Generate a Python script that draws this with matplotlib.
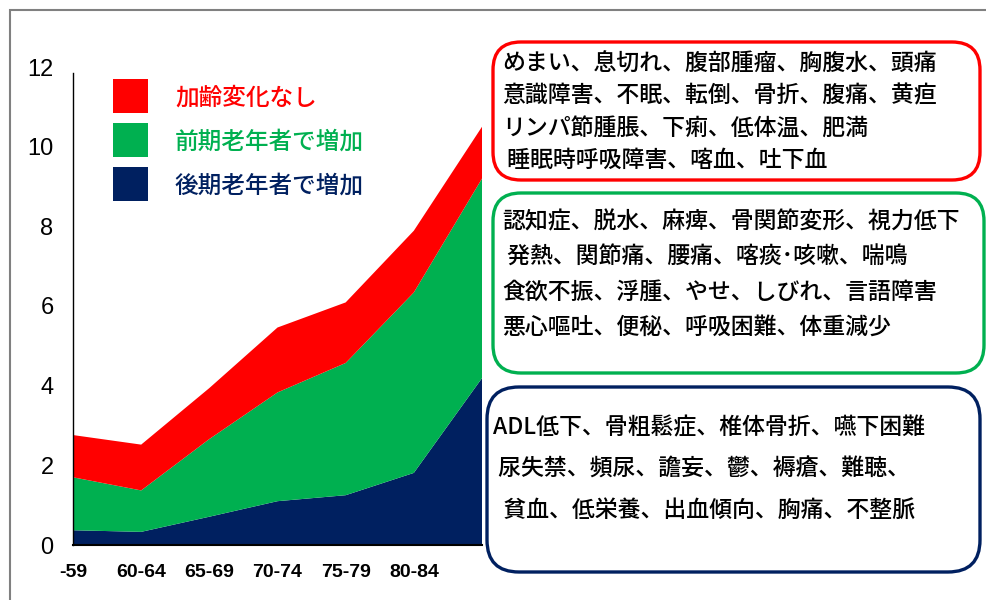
import matplotlib
matplotlib.use("Agg")
import matplotlib.pyplot as plt
from matplotlib.patches import FancyBboxPatch, Rectangle
import numpy as np

# ---- data ----
categories = ["-59", "60-64", "65-69", "70-74", "75-79", "80-84", "85-"]
shown_labels = ["-59", "60-64", "65-69", "70-74", "75-79", "80-84", ""]
late_elderly = [0.37, 0.33, 0.71, 1.10, 1.25, 1.81, 4.19]      # navy (bottom)
early_elderly = [1.33, 1.04, 1.95, 2.73, 3.32, 4.53, 5.01]     # green (middle)
no_change = [1.06, 1.15, 1.28, 1.63, 1.52, 1.55, 1.30]         # red (top)
series_names = ["加齢変化なし", "前期老年者で増加", "後期老年者で増加"]
colors = ["#FF0000", "#00B050", "#002060"]
yticks = [0, 2, 4, 6, 8, 10, 12]

box_red_lines = ["めまい、息切れ、腹部腫瘤、胸腹水、頭痛",
                 "意識障害、不眠、転倒、骨折、腹痛、黄疸",
                 "リンパ節腫脹、下痢、低体温、肥満",
                 " 睡眠時呼吸障害、喀血、吐下血"]
box_green_lines = ["認知症、脱水、麻痺、骨関節変形、視力低下",
                   " 発熱、関節痛、腰痛、喀痰･咳嗽、喘鳴",
                   "食欲不振、浮腫、やせ、しびれ、言語障害",
                   "悪心嘔吐、便秘、呼吸困難、体重減少"]
box_navy_lines = ["ADL低下、骨粗鬆症、椎体骨折、嚥下困難",
                  " 尿失禁、頻尿、譫妄、鬱、褥瘡、難聴、",
                  "  貧血、低栄養、出血傾向、胸痛、不整脈"]

plt.rcParams['font.family'] = ['Liberation Sans', 'DejaVu Sans']
JP = ['Noto Sans CJK JP', 'DejaVu Sans']

W, H = 986, 600
fig = plt.figure(figsize=(W / 100, H / 100), dpi=100)
fig.patch.set_facecolor("white")

# axes in pixel geometry
ax_left, ax_right, ax_bottom, ax_top = 73, 482, 545, 67
ax = fig.add_axes([ax_left / W, 1 - ax_bottom / H,
                   (ax_right - ax_left) / W, (ax_bottom - ax_top) / H])
x = np.arange(len(categories))
ax.stackplot(x, late_elderly, early_elderly, no_change,
             colors=[colors[2], colors[1], colors[0]], linewidth=0)
ax.set_xlim(0, len(categories) - 1)
ax.set_ylim(0, 12)
ax.set_yticks(yticks)
ax.set_yticklabels([str(v) for v in yticks], fontsize=17)
ax.set_xticks(x)
ax.set_xticklabels(shown_labels, fontsize=14, fontweight="bold")
ax.tick_params(axis="y", length=0, pad=14)
ax.tick_params(axis="x", length=0, pad=14)
for s in ["top", "right"]:
    ax.spines[s].set_visible(False)
ax.spines["left"].set_linewidth(1.0)
ax.spines["left"].set_bounds(0, 11.85)
ax.spines["bottom"].set_linewidth(1.5)
ax.set_facecolor("none")

tr = fig.dpi_scale_trans

# outer grey frame
fig.patches.append(Rectangle((0.10, -0.5), 12, 5.90 + 0.5, transform=tr,
                             fill=False, edgecolor="#808080", linewidth=1.5))

# legend
leg_top = 79
for i, (name, c) in enumerate(zip(series_names, colors)):
    top = leg_top + i * 44
    fig.patches.append(Rectangle((1.13, (H - top - 34) / 100), 0.35, 0.34,
                                 transform=tr, facecolor=c, edgecolor="none"))
    fig.text(1.75, (H - top - 19) / 100, name, transform=tr, color=c,
             fontsize=17, family=JP, va="center", ha="left", fontweight="medium")

# boxes
def box(x0, y0, x1, y1, ec, lines, tx, ty0, dy, r=0.28):
    p = FancyBboxPatch((x0 / 100, (H - y1) / 100), (x1 - x0) / 100, (y1 - y0) / 100,
                       boxstyle=f"round,pad=0,rounding_size={r}", transform=tr,
                       facecolor="white", edgecolor=ec, linewidth=2.4)
    fig.patches.append(p)
    for j, ln in enumerate(lines):
        fig.text(tx / 100, (H - (ty0 + j * dy)) / 100, ln, transform=tr,
                 fontsize=16.5, family=JP, va="center", ha="left", color="black",
                 fontweight="medium")

box(493, 42, 980, 180, colors[0], box_red_lines, 502, 64, 32)
box(493, 193, 984, 373, colors[1], box_green_lines, 502, 222, 35)
box(487, 387, 980, 572, colors[2], box_navy_lines, 493, 428, 41, r=0.32)

fig.savefig("out.png", dpi=100, facecolor="white")
